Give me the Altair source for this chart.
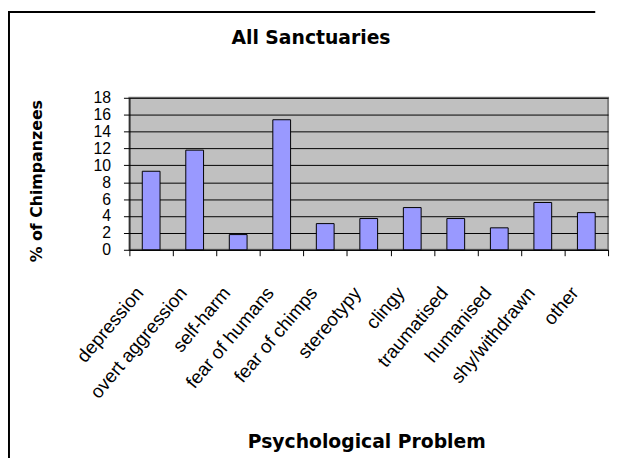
import altair as alt
import pandas as pd

CATEGORIES = ["depression", "overt aggression", "self-harm", "fear of humans",
              "fear of chimps", "stereotypy", "clingy", "traumatised",
              "humanised", "shy/withdrawn", "other"]
PERCENT = [9.3, 11.8, 1.8, 15.4, 3.1, 3.7, 5.0, 3.7, 2.6, 5.6, 4.4]
Y_TICKS = [0, 2, 4, 6, 8, 10, 12, 14, 16, 18]
TITLE = "All Sanctuaries"
X_TITLE = "Psychological Problem"
Y_TITLE = "% of Chimpanzees"

FONT = "Liberation Sans"
TFONT = "DejaVu Sans"

df = pd.DataFrame({"problem": CATEGORIES, "pct": PERCENT})

bars = alt.Chart(df).mark_bar(
    size=18, color="#9999FF", stroke="#000000", strokeWidth=1
).encode(
    x=alt.X(
        "problem:N", sort=CATEGORIES,
        scale=alt.Scale(paddingInner=0, paddingOuter=0),
        axis=alt.Axis(
            title=X_TITLE, titleFont=TFONT, titleFontSize=19, titleFontWeight="bold",
            titleColor="#000000", titleX=240, titleY=200, titleAlign="center",
            titleBaseline="alphabetic",
            labelAngle=-50, labelAlign="right", labelBaseline="middle",
            labelFont=FONT, labelFontSize=19, labelColor="#000000",
            labelOffset=-12, labelPadding=34, labelOverlap=False, labelLimit=0,
            tickBand="extent", tickSize=6, tickColor="#000000",
            domainColor="#000000", domainWidth=1, grid=False,
        ),
    ),
    y=alt.Y(
        "pct:Q",
        scale=alt.Scale(domain=[0, 18], nice=False, zero=True),
        axis=alt.Axis(
            values=Y_TICKS, title=Y_TITLE, titleFont=TFONT, titleFontSize=16,
            titleFontWeight="bold", titleColor="#000000", titleAngle=-90,
            titleX=-94, titleY=84, titleAlign="center", titleBaseline="middle",
            labelFont=FONT, labelFontSize=16, labelColor="#000000",
            labelPadding=13, labelOverlap=False, labelFlush=False,
            tickSize=6, tickColor="#000000", domainColor="#000000",
            grid=True, gridColor="#000000", gridWidth=1, gridOpacity=1,
        ),
    ),
)

one = pd.DataFrame({"t": [TITLE]})

frame_left = alt.Chart(one).mark_rule(color="#000000", strokeWidth=2).encode(
    x=alt.value(-122), y=alt.value(-87), y2=alt.value(365)
)
frame_top = alt.Chart(one).mark_rule(color="#000000", strokeWidth=2).encode(
    x=alt.value(-123), x2=alt.value(472), y=alt.value(-87)
)
title_text = alt.Chart(one).mark_text(
    font=TFONT, fontSize=19, fontWeight="bold", align="center",
    baseline="alphabetic", color="#000000"
).encode(text="t:N", x=alt.value(184), y=alt.value(-55))

chart = alt.layer(bars, frame_left, frame_top, title_text).properties(
    width=485, height=154,
    padding={"left": 123, "top": 88, "right": 5, "bottom": 209},
    autosize=alt.AutoSizeParams(type="none"),
    background="#FFFFFF",
).configure_view(fill="#C0C0C0", stroke="#808080", strokeWidth=2)

chart.save("out.html", embed_options={"renderer": "svg", "actions": False})
